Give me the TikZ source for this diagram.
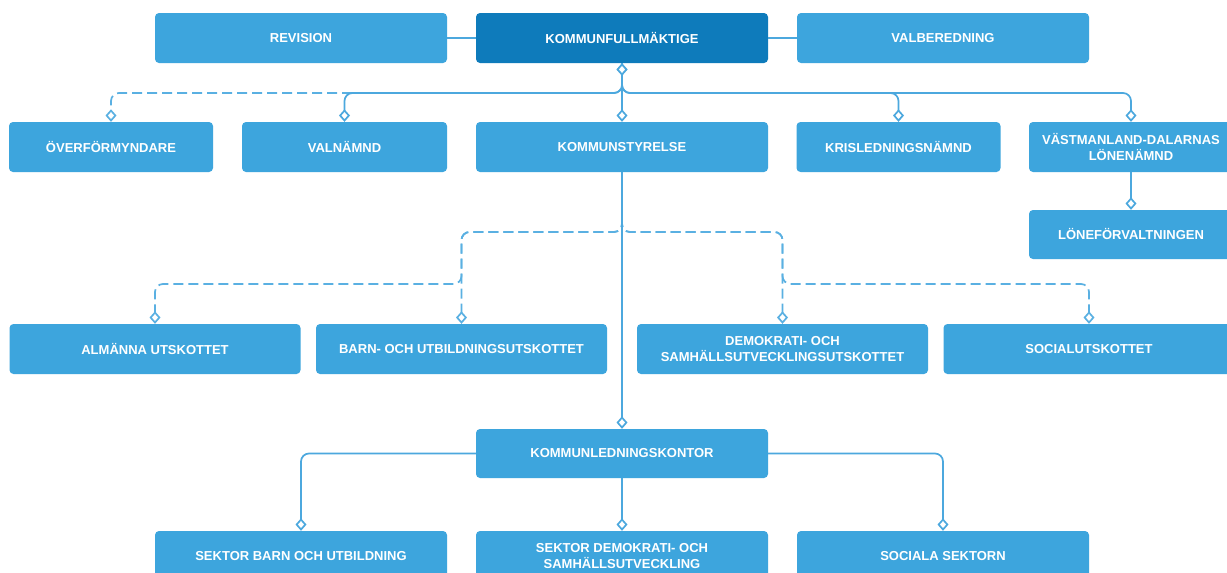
\documentclass[tikz,border=0pt]{standalone}
\usepackage{fontspec}
\setmainfont{Liberation Sans}
\usetikzlibrary{arrows.meta}
\definecolor{boxblue}{RGB}{61,165,221}
\definecolor{darkblue}{RGB}{14,123,187}
\definecolor{lineblue}{RGB}{76,168,222}
\definecolor{dashblue}{RGB}{90,176,226}
\tikzset{
  orgbox/.style={draw=none, fill=boxblue, rounded corners=4pt, minimum height=50pt,
    text=white, font=\fontsize{13}{16.5}\selectfont\bfseries, align=center, inner sep=2pt},
  widebox/.style={orgbox, minimum width=292pt},
  narrowbox/.style={orgbox, minimum width=204pt},
  kfbox/.style={widebox, fill=darkblue},
  conn/.style={draw=lineblue, line width=1.7pt, rounded corners=8pt, -{Diamond[fill=white, length=12.5pt, width=11pt]}},
  dconn/.style={conn, draw=dashblue, dash pattern=on 10pt off 5pt},
  plain/.style={draw=lineblue, line width=1.7pt}
}
\begin{document}
\begin{tikzpicture}[x=1pt,y=-1pt]
\useasboundingbox (0,0) rectangle (1227,573);
\clip (0,0) rectangle (1227,573);
\fill[white] (0,0) rectangle (1227,573);
% levels
\coordinate (busA) at (0,93);
\coordinate (busB) at (0,232);
\coordinate (busC) at (0,284);
% row 1
\node[widebox] (rev) at (301,38) {REVISION};
\node[kfbox] (kf) at (622,38) {KOMMUNFULLMÄKTIGE};
\node[widebox] (val) at (943,38) {VALBEREDNING};
% row 2
\node[narrowbox] (ovf) at (111,147) {ÖVERFÖRMYNDARE};
\node[narrowbox, minimum width=205pt] (valn) at (344.5,147) {VALNÄMND};
\node[widebox] (ks) at (622,147) {KOMMUNSTYRELSE};
\node[narrowbox] (kris) at (898.5,147) {KRISLEDNINGSNÄMND};
\node[narrowbox] (vdl) at (1131,147) {VÄSTMANLAND-DALARNAS\\LÖNENÄMND};
\node[narrowbox, minimum height=49pt] (lon) at (1131,234.5) {LÖNEFÖRVALTNINGEN};
% row 3
\node[orgbox, minimum width=291pt] (alm) at (155,349) {ALMÄNNA UTSKOTTET};
\node[orgbox, minimum width=291pt] (barn) at (461.5,349) {BARN- OCH UTBILDNINGSUTSKOTTET};
\node[orgbox, minimum width=291pt] (dem) at (782.5,349) {DEMOKRATI- OCH\\SAMHÄLLSUTVECKLINGSUTSKOTTET};
\node[orgbox, minimum width=291pt] (soc) at (1089,349) {SOCIALUTSKOTTET};
% row 4
\node[widebox, minimum height=49pt] (klk) at (622,453.5) {KOMMUNLEDNINGSKONTOR};
% row 5
\node[widebox] (sbu) at (301,556) {SEKTOR BARN OCH UTBILDNING};
\node[widebox] (sds) at (622,556) {SEKTOR DEMOKRATI- OCH\\SAMHÄLLSUTVECKLING};
\node[widebox] (ss) at (943,556) {SOCIALA SEKTORN};
% row 1 links
\draw[plain] (rev.east) -- (kf.west);
\draw[plain] (kf.east) -- (val.west);
% KF children
\draw[dconn, {Diamond[fill=white, length=12.5pt, width=11pt]}-{Diamond[fill=white, length=12.5pt, width=11pt]}] (kf.south) -- (kf.south |- busA) -- (ovf.north |- busA) -- (ovf.north);
\draw[conn] (kf.south) -- (kf.south |- busA) -- (valn.north |- busA) -- (valn.north);
\draw[conn] (kf.south) -- (kf.south |- busA) -- (kris.north |- busA) -- (kris.north);
\draw[conn] (kf.south) -- (kf.south |- busA) -- (vdl.north |- busA) -- (vdl.north);
\draw[conn, {Diamond[fill=white, length=12.5pt, width=11pt]}-{Diamond[fill=white, length=12.5pt, width=11pt]}] (kf.south) -- (ks.north);
% lönenämnd
\draw[conn] (vdl.south) -- (lon.north);
% KS committees (dashed)
\draw[dconn] (ks.south) -- (ks.south |- busB) -- (barn.north |- busB) -- (barn.north |- busC) -- (alm.north |- busC) -- (alm.north);
\draw[dconn] (ks.south) -- (ks.south |- busB) -- (barn.north |- busB) -- (barn.north);
\draw[dconn] (ks.south) -- (ks.south |- busB) -- (dem.north |- busB) -- (dem.north |- busC) -- (soc.north |- busC) -- (soc.north);
\draw[dconn] (ks.south) -- (ks.south |- busB) -- (dem.north |- busB) -- (dem.north);
% KS to KLK
\draw[conn] (ks.south) -- (klk.north);
% KLK sectors
\draw[conn] (klk.west) -| (sbu.north);
\draw[conn] (klk.south) -- (sds.north);
\draw[conn] (klk.east) -| (ss.north);
\end{tikzpicture}
\end{document}
